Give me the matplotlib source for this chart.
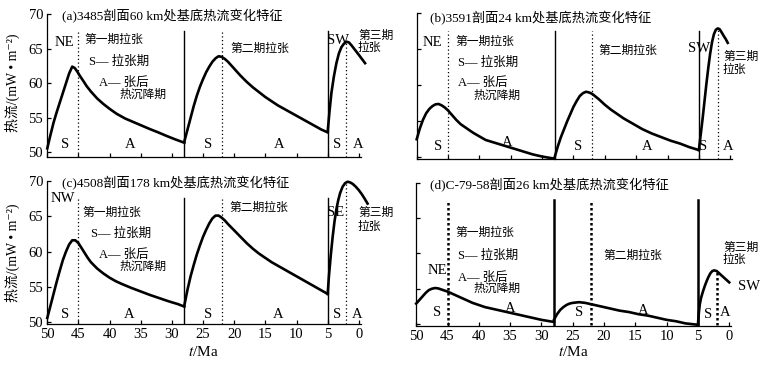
import matplotlib
matplotlib.use("Agg")
import matplotlib.pyplot as plt

plt.rcParams['mathtext.fontset'] = 'stix'
FAM = ['Liberation Serif', 'Noto Sans CJK SC', 'DejaVu Sans']
plt.rcParams['font.family'] = FAM

W, H = 767, 368

# ---- data (t in Ma, heat flow in mW/m2) ----
a_t1 = [50, 49.5, 49.0, 48.5, 48.0, 47.5, 47.0, 46.5, 46.0, 45.6, 45.2, 44.8, 44.2, 43.7, 43.0, 42.0,
        41.0, 40.0, 38.9, 37.5, 36.2, 34.9, 33.6, 32.2, 30.9, 29.5, 28]
a_v1 = [50.6, 52.5, 54.3, 55.8, 57.2, 58.6, 60.0, 61.4, 62.4, 62.2, 61.7, 61.1, 60.3, 59.6, 58.8, 57.8,
        57.0, 56.3, 55.6, 54.9, 54.4, 53.9, 53.4, 52.9, 52.4, 51.9, 51.4]
a_t2 = [28, 27.5, 27.0, 26.5, 26.0, 25.5, 25.0, 24.5, 24.0, 23.5, 23.0, 22.5, 22.0, 21.5, 21.0, 20.5,
        20.0, 19.0, 18.0, 17.0, 16.0, 15.0, 14.0, 13.0, 12.0, 11.0, 10.0, 9.0, 8.0, 7.0, 6.0, 5.0]
a_v2 = [51.6, 53.3, 55.0, 56.7, 58.2, 59.5, 60.6, 61.6, 62.4, 63.1, 63.6, 63.9, 63.8, 63.5, 63.1, 62.6,
        62.1, 61.1, 60.2, 59.4, 58.7, 58.0, 57.4, 56.8, 56.3, 55.8, 55.3, 54.8, 54.3, 53.8, 53.3, 52.9]
a_t3 = [5, 4.7, 4.4, 4.0, 3.6, 3.2, 2.8, 2.4, 2.0, 1.6, 1.2, 0.6, 0, -0.5, -1.0]
a_v3 = [53.0, 56.0, 58.6, 61.0, 62.9, 64.3, 65.2, 65.7, 66.0, 65.9, 65.5, 64.8, 64.1, 63.5, 62.9]

b_t1 = [50, 49.5, 49.0, 48.5, 48.0, 47.5, 47.0, 46.5, 46.0, 45.5, 45.0, 44.4, 43.7, 43.0, 42.0, 41.0,
        40.0, 39.0, 37.5, 36.0, 34.5, 33.0, 31.5, 30.0, 28.0]
b_v1 = [52.5, 54.0, 55.2, 56.1, 56.7, 57.1, 57.35, 57.4, 57.2, 56.9, 56.5, 55.9, 55.2, 54.6, 54.0, 53.4,
        52.9, 52.4, 52.0, 51.6, 51.2, 50.8, 50.4, 50.1, 49.8]
b_t2 = [28, 27.5, 27.0, 26.5, 26.0, 25.5, 25.0, 24.5, 24.0, 23.5, 23.0, 22.5, 22.0, 21.0, 20.0, 19.0,
        18.0, 17.0, 16.0, 15.0, 14.0, 12.5, 11.0, 9.5, 8.0, 6.5, 5.0]
b_v2 = [50.0, 51.5, 52.8, 53.9, 55.0, 56.0, 57.0, 57.8, 58.5, 58.9, 59.1, 59.0, 58.8, 58.1, 57.3, 56.6,
        56.0, 55.4, 54.9, 54.4, 53.9, 53.3, 52.8, 52.3, 51.9, 51.4, 51.0]
b_t3 = [5, 4.7, 4.4, 4.1, 3.8, 3.5, 3.2, 2.9, 2.6, 2.3, 2.0, 1.7, 1.4, 1.0, 0.7, 0.4]
b_v3 = [51.0, 53.2, 55.4, 57.8, 60.2, 62.4, 64.4, 66.0, 67.1, 67.7, 67.9, 67.8, 67.4, 66.8, 66.4, 65.9]

c_t1 = [50, 49.5, 49.0, 48.5, 48.0, 47.5, 47.0, 46.5, 46.0, 45.5, 45.0, 44.5, 44.0, 43.5, 43.0, 42.0,
        41.0, 40.0, 39.0, 38.0, 36.5, 35.0, 33.5, 32.0, 30.5, 29.0, 28.0]
c_v1 = [50.6, 52.3, 54.0, 55.7, 57.3, 58.8, 60.0, 61.0, 61.6, 61.6, 61.2, 60.5, 59.8, 59.1, 58.5, 57.6,
        56.9, 56.3, 55.8, 55.4, 54.85, 54.35, 53.85, 53.4, 52.95, 52.55, 52.2]
c_t2 = [28, 27.5, 27.0, 26.5, 26.0, 25.5, 25.0, 24.5, 24.0, 23.5, 23.0, 22.5, 22.0, 21.5, 21.0, 20.0,
        19.0, 18.0, 17.0, 16.0, 15.0, 14.0, 13.0, 12.0, 11.0, 10.0, 9.0, 8.0, 7.0, 6.0, 5.0]
c_v2 = [52.4, 54.6, 56.5, 58.1, 59.6, 60.9, 62.1, 63.1, 64.0, 64.7, 65.1, 65.1, 64.8, 64.4, 63.9, 63.0,
        62.1, 61.2, 60.4, 59.7, 59.1, 58.5, 58.0, 57.5, 57.0, 56.5, 56.0, 55.5, 55.0, 54.5, 54.0]
c_t3 = [5, 4.8, 4.5, 4.2, 3.9, 3.6, 3.3, 3.0, 2.6, 2.2, 1.8, 1.4, 1.0, 0.5, 0, -0.5, -1.0, -1.4]
c_v3 = [54.0, 56.5, 59.5, 62.1, 64.3, 66.0, 67.3, 68.3, 69.2, 69.7, 69.9, 69.8, 69.6, 69.2, 68.7, 68.1,
        67.4, 66.8]

d_t1 = [50, 49.5, 49.0, 48.5, 48.0, 47.5, 47.0, 46.5, 46.0, 45.0, 44.0, 43.0, 42.0, 41.0, 40.0, 39.0,
        37.5, 36.0, 34.5, 33.0, 31.5, 30.0, 28.0]
d_v1 = [52.9, 53.4, 53.9, 54.4, 54.8, 55.0, 55.1, 55.05, 54.9, 54.6, 54.2, 53.8, 53.4, 53.0, 52.7, 52.4,
        52.1, 51.8, 51.5, 51.2, 50.9, 50.6, 50.3]
d_t2 = [28, 27.5, 27.0, 26.5, 26.0, 25.5, 25.0, 24.0, 23.0, 22.0, 20.5, 19.0, 17.5, 16.0, 14.5, 13.0,
        11.5, 10.0, 8.5, 7.0, 5.0]
d_v2 = [50.6, 51.4, 52.0, 52.4, 52.7, 52.9, 53.0, 53.1, 53.0, 52.8, 52.5, 52.2, 51.9, 51.7, 51.4, 51.2,
        50.9, 50.6, 50.4, 50.1, 49.9]
d_t3 = [5, 4.85, 4.7, 4.5, 4.2, 3.9, 3.6, 3.3, 3.0, 2.7, 2.4, 2.0, 1.5, 1.0, 0.5, 0]
d_v3 = [49.9, 51.6, 52.8, 53.7, 54.6, 55.4, 56.1, 56.7, 57.2, 57.5, 57.6, 57.5, 57.1, 56.7, 56.3, 55.9]

rift_bounds = [28, 5]        # solid lines: start of each rifting phase
stage_bounds = [45, 22, 2]   # dotted lines: S / A boundary
line_top = 67.6
x_ticks = [50, 45, 40, 35, 30, 25, 20, 15, 10, 5, 0]
y_ticks = [50, 55, 60, 65, 70]

fig = plt.figure(figsize=(W / 100, H / 100), dpi=100)


def px_axes(left, top, right, bottom):
    return fig.add_axes([left / W, 1 - bottom / H, (right - left) / W, (bottom - top) / H])


def note(px, py, s, ha='left', size=9.5):
    fig.text(px / W, 1 - py / H, s, ha=ha, va='center', fontsize=size, family=FAM)


def panel(ax, segs, ylo, bold, xlabels, ylabels):
    for t, v in segs:
        ax.plot(t, v, color='black', lw=1.9, clip_on=False, solid_joinstyle='round')
    vlw = 1.8 if bold else 1.0
    dls = (0, (1, 1)) if bold else (0, (1, 2))
    dlw = 1.8 if bold else 0.9
    for b in rift_bounds:
        ax.plot([b, b], [ylo, line_top], color='black', lw=vlw)
    for k, b in enumerate(stage_bounds):
        top = max(segs[2][1]) if k == 2 else line_top
        ax.plot([b, b], [ylo, top], color='black', lw=dlw, linestyle=dls)
    ax.set_xlim(50, -0.3)
    ax.set_ylim(ylo, 70)
    ax.set_xticks(x_ticks)
    ax.set_yticks(y_ticks)
    ax.spines['top'].set_visible(False)
    ax.spines['right'].set_visible(False)
    for s in ['left', 'bottom']:
        ax.spines[s].set_linewidth(0.9)
    ax.tick_params(direction='in', length=3, width=0.9, labelsize=10.5, pad=3)
    if not xlabels:
        ax.set_xticklabels([])
    if not ylabels:
        ax.set_yticklabels([])
    ax.patch.set_alpha(0)


ax_a = px_axes(47.3, 14, 360.7, 156.6)
panel(ax_a, [(a_t1, a_v1), (a_t2, a_v2), (a_t3, a_v3)], 49.4, False, False, True)
ax_b = px_axes(416.7, 13.3, 732.1, 158.7)
panel(ax_b, [(b_t1, b_v1), (b_t2, b_v2), (b_t3, b_v3)], 49.8, False, False, False)
ax_c = px_axes(47.3, 181, 360.7, 324.3)
panel(ax_c, [(c_t1, c_v1), (c_t2, c_v2), (c_t3, c_v3)], 49.7, False, True, True)
ax_d = px_axes(416.2, 182.7, 731.1, 325.5)
panel(ax_d, [(d_t1, d_v1), (d_t2, d_v2), (d_t3, d_v3)], 49.8, True, True, False)

# y labels and x labels
for cy in [83, 253]:
    fig.text(12 / W, 1 - cy / H, '热流/(mW • m⁻²)', rotation=90, ha='center', va='center',
             fontsize=10, family=FAM)
for cx in [203, 573]:
    fig.text(cx / W, 1 - 352 / H, '$t$/Ma', ha='center', va='center', fontsize=11, family=FAM)

# (a)
note(62, 16.5, '(a)3485剖面60 km处基底热流变化特征', size=9.5)
note(55, 42, 'NE', size=10.5)
note(84, 40, '第一期拉张', size=8.5)
note(89, 62, 'S— 拉张期', size=9)
note(99, 83, 'A— 张后', size=9)
note(120, 95, '热沉降期', size=8.5)
note(230, 49, '第二期拉张', size=8.5)
note(327, 40, 'SW', size=10.5)
note(358, 36, '第三期', size=8.5)
note(358, 48, '拉张', size=8.5)
for x, s in [(65, 'S'), (130, 'A'), (208, 'S'), (279, 'A'), (337, 'S'), (358, 'A')]:
    note(x, 145, s, ha='center', size=10.5)

# (b)
note(430, 18, '(b)3591剖面24 km处基底热流变化特征', size=9.5)
note(423, 42, 'NE', size=10.5)
note(455, 42, '第一期拉张', size=8.5)
note(458, 63, 'S— 拉张期', size=9)
note(458, 83, 'A— 张后', size=9)
note(473, 96, '热沉降期', size=8.5)
note(598, 51, '第二期拉张', size=8.5)
note(688, 48, 'SW', size=10.5)
note(723, 57, '第三期', size=8.5)
note(723, 70, '拉张', size=8.5)
for x, y, s in [(438, 146, 'S'), (507, 142, 'A'), (578, 146, 'S'), (647, 146, 'A'),
                (703, 146, 'S'), (728, 146, 'A')]:
    note(x, y, s, ha='center', size=10.5)

# (c)
note(62, 183.5, '(c)4508剖面178 km处基底热流变化特征', size=9.5)
note(51, 199, 'NW', size=10.5)
note(82, 213, '第一期拉张', size=8.5)
note(91, 234, 'S— 拉张期', size=9)
note(99, 255, 'A— 张后', size=9)
note(120, 267, '热沉降期', size=8.5)
note(229, 208, '第二期拉张', size=8.5)
note(327, 213, 'SE', size=10.5)
note(358, 213, '第三期', size=8.5)
note(358, 227, '拉张', size=8.5)
for x, s in [(65, 'S'), (129, 'A'), (208, 'S'), (278, 'A'), (337, 'S'), (357, 'A')]:
    note(x, 315, s, ha='center', size=10.5)

# (d)
note(430, 185, '(d)C-79-58剖面26 km处基底热流变化特征', size=9.5)
note(455, 233, '第一期拉张', size=8.5)
note(458, 256, 'S— 拉张期', size=9)
note(428, 270, 'NE', size=10.5)
note(458, 278, 'A— 张后', size=9)
note(473, 289, '热沉降期', size=8.5)
note(603, 256, '第二期拉张', size=8.5)
note(723, 248, '第三期', size=8.5)
note(723, 260, '拉张', size=8.5)
note(738, 286, 'SW', size=10.5)
for x, y, s in [(437, 313, 'S'), (510, 308, 'A'), (579, 313, 'S'), (643, 311, 'A'),
                (708, 315, 'S'), (725, 313, 'A')]:
    note(x, y, s, ha='center', size=10.5)

fig.savefig('out.png', dpi=100)
